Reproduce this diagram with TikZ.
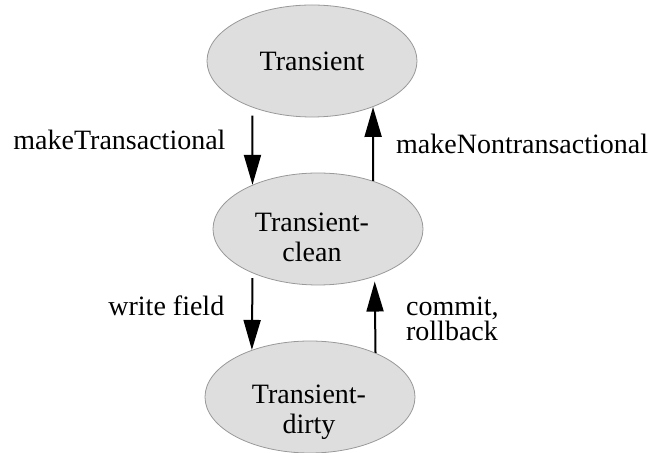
\documentclass[tikz,border=0pt]{standalone}
\usepackage{fontspec}
\setmainfont{Liberation Serif}
\usepackage{tikz}
\usetikzlibrary{shapes.geometric, arrows.meta, positioning}
\tikzstyle{state} = [ellipse, minimum width=105pt, minimum height=56pt, inner sep=0pt, align=center, draw=black!40, fill=black!13]
\tikzstyle{arrow} = [line width=1pt, -{Triangle[length=15pt, width=8.5pt]}]
\tikzstyle{event} = [inner sep=0pt]
% two-line state name, moved right/down inside its ellipse
\newcommand{\statename}[3]{\kern#1\raisebox{#2}[\height][\depth]{\begin{tabular}{@{}c@{}}#3\end{tabular}}\kern-#1}

\begin{document}
\begin{tikzpicture}[x=0.5pt, y=-0.5pt, node distance=84pt, font=\fontsize{14}{15}\selectfont]
    \useasboundingbox (0,0) rectangle (654,453);

    % Nodes
    \node (trans) [state] at (312,61) {Transient};
    \node (clean) [state, below of=trans, xshift=3pt] {\statename{-3pt}{-6pt}{Transient-\\clean}};
    \node (dirty) [state, below of=clean, xshift=-4pt] {\statename{-0.5pt}{-8pt}{Transient-\\dirty}};

    % Arrows
    \draw[arrow, shorten <=4pt] (trans.218) -- (clean.146) node[event, pos=0.42, left=13pt] {makeTransactional};
    \draw[arrow] (clean.41) -- (trans.323) node[event, midway, right=11pt] {makeNontransactional};
    \draw[arrow, shorten <=2.5pt] (clean.214) -- (dirty.141) node[event, pos=0.42, left=13.5pt] {write field};
    \draw[arrow, shorten >=2.5pt] (dirty.34) -- (clean.320) node[event, pos=0.44, right=15pt, align=left] {commit,\\[-2.5pt]rollback};

\end{tikzpicture}
\end{document}
